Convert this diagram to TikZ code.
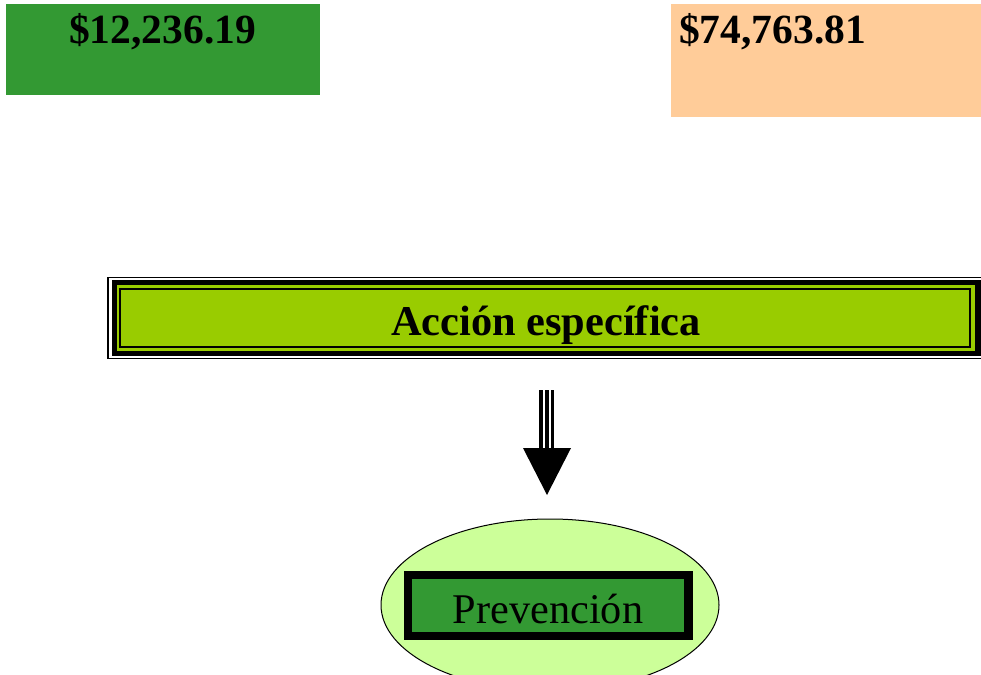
\documentclass[tikz,border=0pt]{standalone}
\usepackage{fontspec}
\setmainfont{Liberation Serif}
\usetikzlibrary{shapes.geometric}
\definecolor{dkgreen}{HTML}{339933}
\definecolor{peach}{HTML}{FFCC99}
\definecolor{lime}{HTML}{99CC00}
\definecolor{palegreen}{HTML}{CCFF99}
\tikzset{
  amt/.style={inner sep=0pt, font=\fontsize{41.5}{48}\selectfont\bfseries},
  bigtxt/.style={inner sep=0pt, font=\fontsize{42.4}{50}\selectfont\bfseries},
  prevtxt/.style={inner sep=0pt, font=\fontsize{42.3}{50}\selectfont},
  plainbox/.style={rectangle, inner sep=0pt, anchor=north west},
}
\begin{document}
\begin{tikzpicture}[x=1pt,y=-1pt]
\useasboundingbox (0,0) rectangle (981,674);
\clip (0,0) rectangle (981,674);
% top boxes
\node[plainbox, fill=dkgreen, minimum width=314pt, minimum height=91pt] (box1) at (6,4) {};
\node[plainbox, fill=peach, minimum width=320pt, minimum height=113pt] (box2) at (671,4) {};
\node[amt, anchor=base] (amt1) at (162.5,44) {\$12,236.19};
\node[amt, anchor=base west] (amt2) at (679,44) {\$74,763.81};
% action box
\draw[line width=1.3pt] (108,277.5) rectangle (1000,358.5);
\fill[black] (112,280) rectangle (980.7,356);
\fill[lime] (117,285) rectangle (975,351);
\draw[line width=2.2pt, fill=lime] (120.3,288.6) rectangle (970,346.6);
\node[bigtxt, anchor=base] (accion) at (546,335) {Acción específica};
% arrow
\coordinate (atop) at (547,390);
\coordinate (ahead) at (547,448);
\coordinate (atip) at (547,495);
\fill (539,390) rectangle (542.6,448.5);
\fill (545,390) rectangle (549,448.5);
\fill (550.7,390) rectangle (554,448.5);
\fill (523,448) -- (571,448) -- (atip) -- cycle;
% ellipse
\node[ellipse, draw, line width=1pt, fill=palegreen, minimum width=338pt, minimum height=172pt, inner sep=0pt] (ell) at (550,605) {};
\node[rectangle, draw, line width=8.5pt, fill=dkgreen, minimum width=280.5pt, minimum height=61pt, inner sep=0pt] (prevbox) at (548,605.5) {};
\node[prevtxt, anchor=base] (prev) at (548,623) {Prevención};
\end{tikzpicture}
\end{document}
